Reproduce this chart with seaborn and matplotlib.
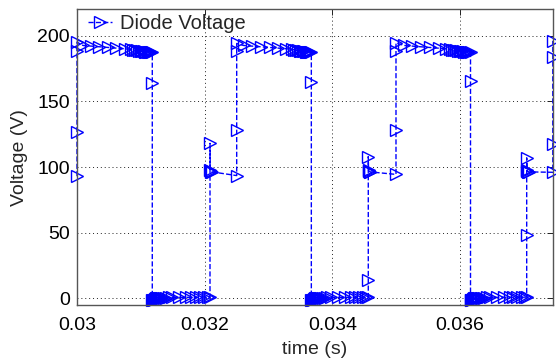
import matplotlib
matplotlib.use('Agg')
import matplotlib.pyplot as plt
import seaborn as sns
import pandas as pd

# --- data (time in s, voltage in V) ---
# cycle 1: starts at left edge, high plateau, drop, low plateau, step to ~97 V
time_c1 = [0.030000, 0.030000, 0.030000, 0.030000,
           0.030094, 0.030219, 0.030352, 0.030486, 0.030611, 0.030744, 0.030846,
           0.030877, 0.030908, 0.030940, 0.030971, 0.030995, 0.031018, 0.031042,
           0.031065, 0.031088, 0.031112, 0.031128, 0.031143, 0.031159, 0.031179,
           0.031179, 0.031179,
           0.031190, 0.031206, 0.031222, 0.031237, 0.031253, 0.031269, 0.031284,
           0.031300, 0.031316, 0.031339, 0.031363, 0.031394, 0.031433, 0.031488,
           0.031598, 0.031707, 0.031793, 0.031864, 0.031926, 0.031989, 0.032044,
           0.032083,
           0.032083, 0.032087, 0.032095, 0.032104, 0.032114]
volt_c1 = [93.0, 126.5, 188.6, 195.0,
           192.5, 192.0, 191.5, 191.0, 190.5, 190.0, 189.5,
           189.3, 189.0, 188.8, 188.6, 188.4, 188.2, 188.0,
           187.9, 187.8, 187.7, 187.6, 187.5, 187.4, 187.3,
           164.0, -1.0,
           -1.5, -1.0, -0.5, 0.0, 0.3, 0.5, 0.5,
           0.6, 0.6, 0.7, 0.7, 0.7, 0.8, 0.8,
           0.8, 0.9, 0.9, 0.9, 1.0, 1.0, 1.0,
           1.0,
           118.0, 97.5, 97.0, 96.6, 96.3]

# cycle 2
time_c2 = [0.032501, 0.032501, 0.032501, 0.032501,
           0.032608, 0.032741, 0.032882, 0.033015, 0.033148, 0.033281, 0.033367,
           0.033399, 0.033430, 0.033461, 0.033485, 0.033508, 0.033532, 0.033555,
           0.033579, 0.033602, 0.033618, 0.033634, 0.033652, 0.033670,
           0.033670, 0.033670,
           0.033681, 0.033696, 0.033712, 0.033728, 0.033743, 0.033759, 0.033774,
           0.033790, 0.033806, 0.033829, 0.033853, 0.033884, 0.033923, 0.033978,
           0.034088, 0.034197, 0.034284, 0.034354, 0.034417, 0.034479, 0.034526,
           0.034562,
           0.034562, 0.034562, 0.034566, 0.034574, 0.034583, 0.034593]
volt_c2 = [93.5, 127.8, 188.6, 194.0,
           192.5, 192.0, 191.5, 191.0, 190.5, 190.0, 189.5,
           189.2, 189.0, 188.8, 188.6, 188.4, 188.2, 188.0,
           187.9, 187.8, 187.6, 187.5, 187.4, 187.3,
           164.5, -1.0,
           -1.5, -1.0, -0.5, 0.0, 0.3, 0.5, 0.5,
           0.6, 0.6, 0.7, 0.7, 0.7, 0.8, 0.8,
           0.8, 0.9, 0.9, 0.9, 1.0, 1.0, 1.0,
           1.0,
           14.4, 108.0, 97.5, 97.0, 96.6, 96.3]

# cycle 3
time_c3 = [0.034996, 0.034996, 0.034996, 0.034996,
           0.035121, 0.035254, 0.035395, 0.035529, 0.035662, 0.035779, 0.035842,
           0.035873, 0.035905, 0.035936, 0.035967, 0.035991, 0.036014, 0.036038,
           0.036061, 0.036085, 0.036108, 0.036124, 0.036144, 0.036163,
           0.036163, 0.036163,
           0.036174, 0.036190, 0.036205, 0.036221, 0.036237, 0.036252, 0.036268,
           0.036284, 0.036299, 0.036323, 0.036346, 0.036378, 0.036417, 0.036472,
           0.036578, 0.036688, 0.036774, 0.036836, 0.036899, 0.036962, 0.037009,
           0.037043,
           0.037043, 0.037043, 0.037047, 0.037055, 0.037064, 0.037074]
volt_c3 = [94.4, 127.8, 188.6, 194.5,
           192.5, 192.0, 191.5, 191.0, 190.5, 190.0, 189.5,
           189.2, 189.0, 188.8, 188.6, 188.4, 188.2, 188.0,
           187.9, 187.8, 187.6, 187.5, 187.4, 187.3,
           165.8, -1.0,
           -1.5, -1.0, -0.5, 0.0, 0.3, 0.5, 0.5,
           0.6, 0.6, 0.7, 0.7, 0.7, 0.8, 0.8,
           0.8, 0.9, 0.9, 0.9, 1.0, 1.0, 1.0,
           1.0,
           48.6, 107.0, 97.5, 97.0, 96.6, 96.3]

# start of cycle 4 at the right edge
time_c4 = [0.037452, 0.037452, 0.037452, 0.037452]
volt_c4 = [96.0, 117.7, 183.5, 196.0]

x_ticks = [0.03, 0.032, 0.034, 0.036]
x_tick_labels = ['0.03', '0.032', '0.034', '0.036']
y_ticks = [0, 50, 100, 150, 200]

df = pd.DataFrame({
    'time': time_c1 + time_c2 + time_c3 + time_c4,
    'volt': volt_c1 + volt_c2 + volt_c3 + volt_c4,
})

sns.set_theme(style='white')
plt.rcParams['font.family'] = ['Liberation Sans', 'DejaVu Sans']

fig = plt.figure(figsize=(5.56, 3.64), dpi=100)
ax = fig.add_axes([0.1385, 0.162, 0.8561, 0.8124])

sns.lineplot(data=df, x='time', y='volt', ax=ax, estimator=None, sort=False,
             color='#0000ff', linestyle='--', linewidth=1.0, dashes=(5, 3.5),
             marker='>', markersize=8, markerfacecolor='none',
             markeredgecolor='#0000ff', markeredgewidth=1.0,
             label='Diode Voltage', clip_on=False)

ax.set_xlim(0.03, 0.037455)
ax.set_ylim(-5, 220)
ax.set_xticks(x_ticks)
ax.set_xticklabels(x_tick_labels)
ax.set_yticks(y_ticks)
ax.grid(True, color='#222222', linestyle=(0, (1, 3)), linewidth=0.7)
ax.tick_params(direction='in', length=4, width=0.7, top=True, right=True,
               labelsize=14, colors='#222222', labelcolor='black')
ax.tick_params(axis='x', pad=8.5)
ax.tick_params(axis='y', pad=5)
for side in ax.spines.values():
    side.set_color('#555555')
    side.set_linewidth(1.0)

ax.set_xlabel('time (s)', fontsize=14, labelpad=5)
ax.set_ylabel('Voltage (V)', fontsize=14, labelpad=7)

ax.legend(loc='upper left', bbox_to_anchor=(0.0126, 1.0), frameon=False,
          fontsize=14.5, handlelength=1.2, handletextpad=0.4,
          borderaxespad=0.0, borderpad=0.25)

fig.savefig('out.png', dpi=100)
